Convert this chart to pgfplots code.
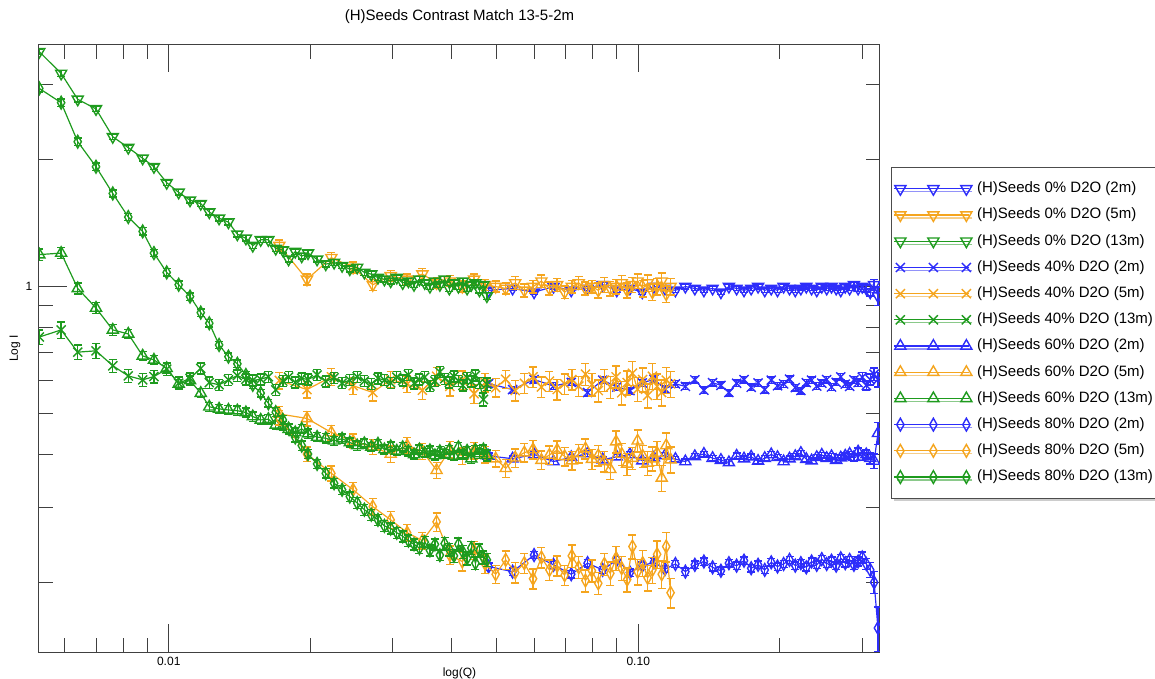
\documentclass[border=0pt]{standalone}
\usepackage{fontspec}
\setmainfont{Liberation Sans}
\usepackage{pgfplots}
\usepackage{pgfplotstable}
\pgfplotsset{compat=1.18}
\usetikzlibrary{shadows}

\definecolor{sblue}{RGB}{45,45,250}
\definecolor{sorange}{RGB}{245,165,30}
\definecolor{sgreen}{RGB}{30,155,30}

% 13 m detector (green)
\pgfplotstableread{
Q      I0    e0    I40   e40   I60   e60   I80   e80
0.0053 3.59  0.015 0.760 0.040 1.19  0.030 2.94  0.020
0.0059 3.19  0.015 0.790 0.045 1.20  0.030 2.72  0.020
0.0064 2.77  0.015 0.700 0.040 0.990 0.030 2.20  0.020
0.0070 2.63  0.015 0.705 0.040 0.890 0.030 1.92  0.020
0.0076 2.26  0.015 0.650 0.035 0.790 0.030 1.66  0.020
0.0082 2.13  0.015 0.615 0.035 0.773 0.025 1.46  0.020
0.0088 2.01  0.015 0.602 0.035 0.686 0.025 1.35  0.020
0.0093 1.92  0.015 0.613 0.035 0.671 0.025 1.20  0.020
0.0099 1.76  0.015 0.638 0.035 0.641 0.025 1.08  0.020
0.0105 1.67  0.015 0.591 0.035 0.589 0.025 1.01  0.020
0.0111 1.60  0.015 0.607 0.030 0.600 0.025 0.947 0.020
0.0117 1.57  0.015 0.641 0.030 0.560 0.025 0.868 0.020
0.0122 1.50  0.015 0.593 0.030 0.520 0.025 0.819 0.020
0.0128 1.45  0.015 0.586 0.030 0.514 0.025 0.728 0.020
0.0134 1.42  0.015 0.602 0.030 0.511 0.025 0.683 0.020
0.0140 1.33  0.015 0.616 0.030 0.509 0.025 0.657 0.020
0.0146 1.30  0.015 0.604 0.030 0.504 0.025 0.618 0.020
0.0151 1.25  0.015 0.600 0.030 0.493 0.025 0.586 0.020
0.0157 1.29  0.015 0.604 0.030 0.484 0.025 0.560 0.020
0.0163 1.29  0.015 0.612 0.030 0.486 0.025 0.530 0.020
0.0169 1.23  0.015 0.570 0.030 0.471 0.025 0.505 0.025
0.0175 1.22  0.015 0.598 0.030 0.468 0.025 0.484 0.025
0.0180 1.16  0.015 0.611 0.030 0.460 0.025 0.462 0.025
0.0186 1.21  0.015 0.594 0.030 0.452 0.025 0.440 0.025
0.0192 1.18  0.015 0.607 0.030 0.461 0.025 0.421 0.025
0.0198 1.20  0.015 0.603 0.030 0.449 0.025 0.402 0.025
0.0207 1.16  0.015 0.618 0.030 0.441 0.025 0.381 0.025
0.0216 1.13  0.015 0.597 0.030 0.438 0.025 0.362 0.025
0.0225 1.14  0.015 0.609 0.030 0.432 0.025 0.343 0.025
0.0234 1.12  0.015 0.592 0.030 0.437 0.025 0.331 0.025
0.0243 1.10  0.015 0.601 0.030 0.428 0.025 0.319 0.025
0.0252 1.11  0.015 0.612 0.030 0.421 0.025 0.308 0.030
0.0261 1.08  0.015 0.598 0.030 0.426 0.025 0.297 0.030
0.0270 1.07  0.015 0.588 0.030 0.418 0.025 0.289 0.030
0.0279 1.05  0.015 0.607 0.030 0.425 0.025 0.281 0.030
0.0288 1.04  0.015 0.601 0.030 0.412 0.025 0.272 0.030
0.0297 1.03  0.015 0.592 0.030 0.419 0.025 0.268 0.030
0.0306 1.05  0.015 0.611 0.030 0.409 0.025 0.262 0.030
0.0315 1.02  0.015 0.600 0.030 0.417 0.025 0.257 0.030
0.0324 1.03  0.015 0.619 0.030 0.408 0.025 0.251 0.030
0.0333 1.01  0.015 0.591 0.030 0.401 0.025 0.246 0.030
0.0342 1.04  0.015 0.603 0.030 0.412 0.025 0.241 0.030
0.0351 1.02  0.015 0.611 0.030 0.404 0.025 0.249 0.030
0.0360 1.00  0.015 0.582 0.030 0.410 0.025 0.238 0.030
0.0369 1.03  0.015 0.598 0.030 0.399 0.025 0.246 0.030
0.0378 1.01  0.015 0.628 0.030 0.408 0.025 0.232 0.030
0.0387 1.04  0.015 0.606 0.030 0.402 0.025 0.247 0.035
0.0396 0.99  0.015 0.594 0.030 0.411 0.025 0.239 0.035
0.0405 1.02  0.015 0.613 0.030 0.398 0.025 0.231 0.035
0.0414 1.00  0.015 0.599 0.030 0.417 0.025 0.246 0.035
0.0423 1.03  0.015 0.584 0.030 0.401 0.025 0.236 0.035
0.0432 0.99  0.015 0.609 0.030 0.409 0.025 0.228 0.035
0.0441 1.01  0.015 0.597 0.030 0.392 0.025 0.241 0.035
0.0450 1.02  0.015 0.617 0.030 0.411 0.025 0.222 0.035
0.0459 0.98  0.015 0.592 0.030 0.403 0.025 0.238 0.035
0.0468 1.01  0.015 0.541 0.035 0.412 0.025 0.229 0.035
0.0476 0.95  0.020 0.588 0.035 0.399 0.030 0.226 0.035
}\tabL

% 5 m detector (orange)
\pgfplotstableread{
Q      I0    e0    I40   e40   I60   e60   I80   e80
0.0172 1.25  0.030 0.600 0.045 0.500 0.040 0.490 0.040
0.0197 1.04  0.030 0.571 0.045 0.488 0.040 0.402 0.040
0.0222 1.17  0.030 0.612 0.045 0.452 0.040 0.362 0.040
0.0247 1.11  0.030 0.583 0.045 0.431 0.040 0.331 0.040
0.0272 1.01  0.030 0.562 0.045 0.418 0.040 0.302 0.045
0.0297 1.06  0.030 0.603 0.045 0.402 0.045 0.281 0.045
0.0322 1.04  0.030 0.588 0.045 0.421 0.045 0.262 0.045
0.0347 1.07  0.030 0.569 0.050 0.408 0.045 0.251 0.045
0.0372 1.02  0.030 0.614 0.050 0.368 0.045 0.278 0.050
0.0397 1.03  0.030 0.581 0.050 0.412 0.045 0.232 0.050
0.0422 1.00  0.030 0.602 0.050 0.398 0.045 0.224 0.050
0.0447 1.04  0.030 0.558 0.050 0.410 0.045 0.238 0.050
0.0472 1.01  0.030 0.593 0.050 0.401 0.045 0.221 0.050
0.0497 1.00  0.030 0.577 0.050 0.392 0.045 0.209 0.050
0.0522 0.99  0.030 0.604 0.050 0.372 0.050 0.226 0.050
0.0547 1.02  0.035 0.568 0.055 0.394 0.050 0.211 0.055
0.0572 0.98  0.035 0.591 0.055 0.405 0.050 0.222 0.055
0.0597 1.00  0.035 0.612 0.055 0.412 0.050 0.204 0.055
0.0622 1.03  0.035 0.579 0.055 0.389 0.050 0.229 0.055
0.0647 0.99  0.035 0.598 0.055 0.400 0.050 0.214 0.055
0.0672 1.01  0.035 0.571 0.055 0.411 0.050 0.219 0.055
0.0697 0.97  0.035 0.589 0.055 0.397 0.050 0.208 0.055
0.0722 1.00  0.035 0.603 0.055 0.388 0.050 0.231 0.060
0.0747 1.02  0.035 0.582 0.055 0.403 0.050 0.217 0.060
0.0772 0.99  0.035 0.621 0.060 0.414 0.055 0.202 0.060
0.0797 1.00  0.035 0.587 0.060 0.391 0.055 0.213 0.060
0.0822 0.98  0.040 0.568 0.060 0.399 0.055 0.199 0.060
0.0847 1.01  0.040 0.601 0.060 0.386 0.055 0.221 0.060
0.0872 0.99  0.040 0.579 0.060 0.370 0.055 0.210 0.065
0.0897 1.00  0.040 0.612 0.060 0.430 0.060 0.228 0.065
0.0922 1.02  0.040 0.561 0.065 0.402 0.060 0.216 0.065
0.0947 0.98  0.040 0.593 0.065 0.381 0.060 0.203 0.065
0.0972 1.01  0.040 0.624 0.065 0.393 0.060 0.243 0.065
0.0997 1.03  0.040 0.572 0.065 0.432 0.060 0.212 0.070
0.1022 0.99  0.045 0.603 0.065 0.398 0.060 0.222 0.070
0.1047 1.02  0.045 0.553 0.065 0.383 0.065 0.205 0.070
0.1072 0.97  0.045 0.614 0.070 0.392 0.065 0.214 0.070
0.1097 1.00  0.045 0.581 0.070 0.404 0.065 0.233 0.075
0.1122 1.03  0.045 0.562 0.070 0.353 0.070 0.209 0.075
0.1147 0.96  0.045 0.601 0.070 0.421 0.070 0.243 0.080
0.1172 1.00  0.045 0.589 0.070 0.390 0.070 0.189 0.080
}\tabM

% 2 m detector (blue)
\pgfplotstableread{
Q      I0    e0    I40   e40   I60   e60   I80   e80
0.048  0.98  0.012 0.590 0.018 0.398 0.015 0.218 0.020
0.054  0.99  0.012 0.571 0.018 0.392 0.015 0.212 0.020
0.060  0.97  0.012 0.603 0.018 0.401 0.015 0.232 0.020
0.066  1.00  0.012 0.582 0.018 0.386 0.015 0.220 0.020
0.072  0.98  0.012 0.594 0.018 0.395 0.015 0.209 0.020
0.078  0.99  0.012 0.562 0.018 0.403 0.015 0.222 0.020
0.084  1.01  0.012 0.601 0.018 0.390 0.015 0.214 0.020
0.090  0.98  0.012 0.579 0.018 0.396 0.015 0.226 0.020
0.096  0.99  0.012 0.568 0.018 0.401 0.015 0.211 0.020
0.102  0.97  0.012 0.592 0.018 0.388 0.015 0.219 0.020
0.108  1.00  0.012 0.604 0.018 0.394 0.015 0.223 0.020
0.114  0.99  0.012 0.573 0.018 0.399 0.015 0.215 0.020
0.120  0.98  0.012 0.589 0.018 0.391 0.015 0.221 0.020
0.126  1.00  0.012 0.581 0.018 0.386 0.015 0.212 0.020
0.132  0.99  0.012 0.602 0.018 0.397 0.015 0.220 0.020
0.138  0.98  0.012 0.569 0.018 0.402 0.015 0.224 0.020
0.144  0.99  0.012 0.593 0.018 0.393 0.015 0.217 0.020
0.150  0.97  0.012 0.584 0.018 0.389 0.015 0.213 0.020
0.156  1.00  0.012 0.562 0.018 0.384 0.015 0.222 0.020
0.162  0.99  0.012 0.591 0.018 0.398 0.015 0.219 0.020
0.168  0.98  0.012 0.603 0.018 0.392 0.015 0.225 0.020
0.174  0.99  0.012 0.578 0.018 0.396 0.015 0.216 0.020
0.180  1.00  0.012 0.592 0.018 0.387 0.015 0.220 0.020
0.186  0.98  0.012 0.571 0.018 0.393 0.015 0.214 0.020
0.192  0.99  0.012 0.601 0.018 0.401 0.015 0.223 0.020
0.198  0.98  0.012 0.583 0.018 0.395 0.015 0.218 0.020
0.204  1.00  0.012 0.589 0.018 0.386 0.015 0.221 0.020
0.210  0.99  0.012 0.604 0.018 0.392 0.015 0.226 0.020
0.216  0.98  0.012 0.577 0.018 0.397 0.015 0.219 0.020
0.222  0.99  0.012 0.568 0.018 0.404 0.015 0.222 0.020
0.228  1.00  0.012 0.593 0.018 0.391 0.015 0.217 0.020
0.234  0.99  0.012 0.601 0.018 0.388 0.015 0.224 0.020
0.240  0.98  0.012 0.582 0.018 0.395 0.015 0.220 0.020
0.246  1.00  0.012 0.591 0.018 0.400 0.015 0.227 0.020
0.252  0.99  0.012 0.603 0.018 0.393 0.015 0.221 0.020
0.258  1.00  0.012 0.579 0.018 0.397 0.015 0.225 0.020
0.264  0.99  0.012 0.594 0.018 0.389 0.015 0.219 0.020
0.270  0.98  0.012 0.612 0.018 0.394 0.015 0.228 0.020
0.276  1.00  0.012 0.588 0.018 0.398 0.015 0.222 0.020
0.282  0.99  0.012 0.581 0.018 0.402 0.015 0.226 0.020
0.288  1.01  0.015 0.602 0.020 0.395 0.020 0.220 0.025
0.294  0.99  0.015 0.593 0.020 0.407 0.020 0.224 0.025
0.300  1.00  0.015 0.611 0.025 0.396 0.020 0.229 0.030
0.306  0.99  0.020 0.584 0.025 0.401 0.025 0.221 0.030
0.312  0.97  0.020 0.603 0.030 0.393 0.030 0.214 0.040
0.318  1.01  0.030 0.621 0.035 0.387 0.040 0.200 0.060
0.324  0.95  0.050 0.603 0.040 0.450 0.060 0.156 0.120
}\tabS

\pgfplotsset{
  dat/.style={color=#1, line width=0.6pt, mark size=3.2pt,
    legend image code/.code={
      \draw[mark=none] (0pt,0pt) -- (37.5pt,0pt);
      \draw[only marks] plot coordinates {(3pt,0pt) (19.5pt,0pt) (36pt,0pt)};},
    /pgfplots/error bars/y dir=both,
    /pgfplots/error bars/y explicit relative,
    /pgfplots/error bars/error bar style={line width=0.7pt, color=#1},
    /pgfplots/error bars/error mark options={rotate=90, mark size=2pt, line width=0.7pt, color=#1}},
  m0/.style={mark=triangle, mark options={solid, rotate=180, line width=0.7pt}},
  m40/.style={mark=x, mark options={solid, line width=0.7pt}},
  m60/.style={mark=triangle, mark options={solid, line width=0.7pt}},
  m80/.style={mark=diamond, mark options={solid, xscale=0.76, line width=0.7pt}},
}

\begin{document}
\begin{tikzpicture}
\path[use as bounding box] (-19.5pt,-13.5pt) rectangle (558pt,326pt);
\begin{axis}[
  at={(0pt,0pt)}, anchor=south west,
  scale only axis, width=420.5pt, height=303.65pt,
  xmode=log, ymode=log,
  xmin=0.005292, xmax=0.3273, ymin=0.1369, ymax=3.73,
  xtick={0.01,0.1}, xticklabels={0.01,0.10},
  minor xtick={0.006,0.007,0.008,0.009,0.02,0.03,0.04,0.05,0.06,0.07,0.08,0.09,0.2,0.3},
  ytick={1}, yticklabels={1},
  minor ytick={0.2,0.3,0.4,0.5,0.6,0.7,0.8,0.9,2,3},
  major tick length=14pt, minor tick length=7pt,
  tick style={black!75, line width=0.5pt},
  axis line style={black!75, line width=0.5pt},
  /pgf/number format/assume math mode=true,
  tick label style={font=\fontsize{6}{7}\selectfont},
  xticklabel style={anchor=north, inner sep=0pt, yshift=-2.2pt},
  yticklabel style={anchor=east, inner sep=0pt, xshift=-3.2pt},
  xlabel={log(Q)},
  xlabel style={at={(axis description cs:0.5,-0.0351)}, anchor=center, inner sep=0pt, font=\fontsize{6}{7}\selectfont},
  ylabel={Log I},
  ylabel style={at={(axis description cs:-0.0285,0.5)}, anchor=center, inner sep=0pt, font=\fontsize{6}{7}\selectfont},
  clip marker paths=true,
  legend cell align=left,
  legend style={at={(1.0127,0.7987)}, anchor=north west,
    draw=black!70, line width=0.5pt, fill=white,
    font=\fontsize{7.5}{9}\selectfont,
    inner xsep=1.3pt, inner ysep=7.2pt, row sep=6.1pt,
    nodes={inner sep=0pt, text height=5.4pt, text depth=1.6pt},
    drop shadow={shadow xshift=1.5pt, shadow yshift=-1.5pt, fill=black!40},
    /tikz/every odd column/.style={column sep=2.6pt}},
]
\addplot[dat=sblue,   m0]  table[x=Q, y=I0,  y error=e0]  {\tabS};
\addplot[dat=sorange, m0]  table[x=Q, y=I0,  y error=e0]  {\tabM};
\addplot[dat=sgreen,  m0]  table[x=Q, y=I0,  y error=e0]  {\tabL};
\addplot[dat=sblue,   m40] table[x=Q, y=I40, y error=e40] {\tabS};
\addplot[dat=sorange, m40] table[x=Q, y=I40, y error=e40] {\tabM};
\addplot[dat=sgreen,  m40] table[x=Q, y=I40, y error=e40] {\tabL};
\addplot[dat=sblue,   m60] table[x=Q, y=I60, y error=e60] {\tabS};
\addplot[dat=sorange, m60] table[x=Q, y=I60, y error=e60] {\tabM};
\addplot[dat=sgreen,  m60] table[x=Q, y=I60, y error=e60] {\tabL};
\addplot[dat=sblue,   m80] table[x=Q, y=I80, y error=e80] {\tabS};
\addplot[dat=sorange, m80] table[x=Q, y=I80, y error=e80] {\tabM};
\addplot[dat=sgreen,  m80] table[x=Q, y=I80, y error=e80] {\tabL};
\legend{(H)Seeds 0\% D2O (2m), (H)Seeds 0\% D2O (5m), (H)Seeds 0\% D2O (13m),
  (H)Seeds 40\% D2O (2m), (H)Seeds 40\% D2O (5m), (H)Seeds 40\% D2O (13m),
  (H)Seeds 60\% D2O (2m), (H)Seeds 60\% D2O (5m), (H)Seeds 60\% D2O (13m),
  (H)Seeds 80\% D2O (2m), (H)Seeds 80\% D2O (5m), (H)Seeds 80\% D2O (13m)}
\end{axis}
\node[font=\fontsize{7.5}{9}\selectfont, inner sep=0pt] at (210.25pt,317.65pt) {(H)Seeds Contrast Match 13-5-2m};
\end{tikzpicture}
\end{document}
